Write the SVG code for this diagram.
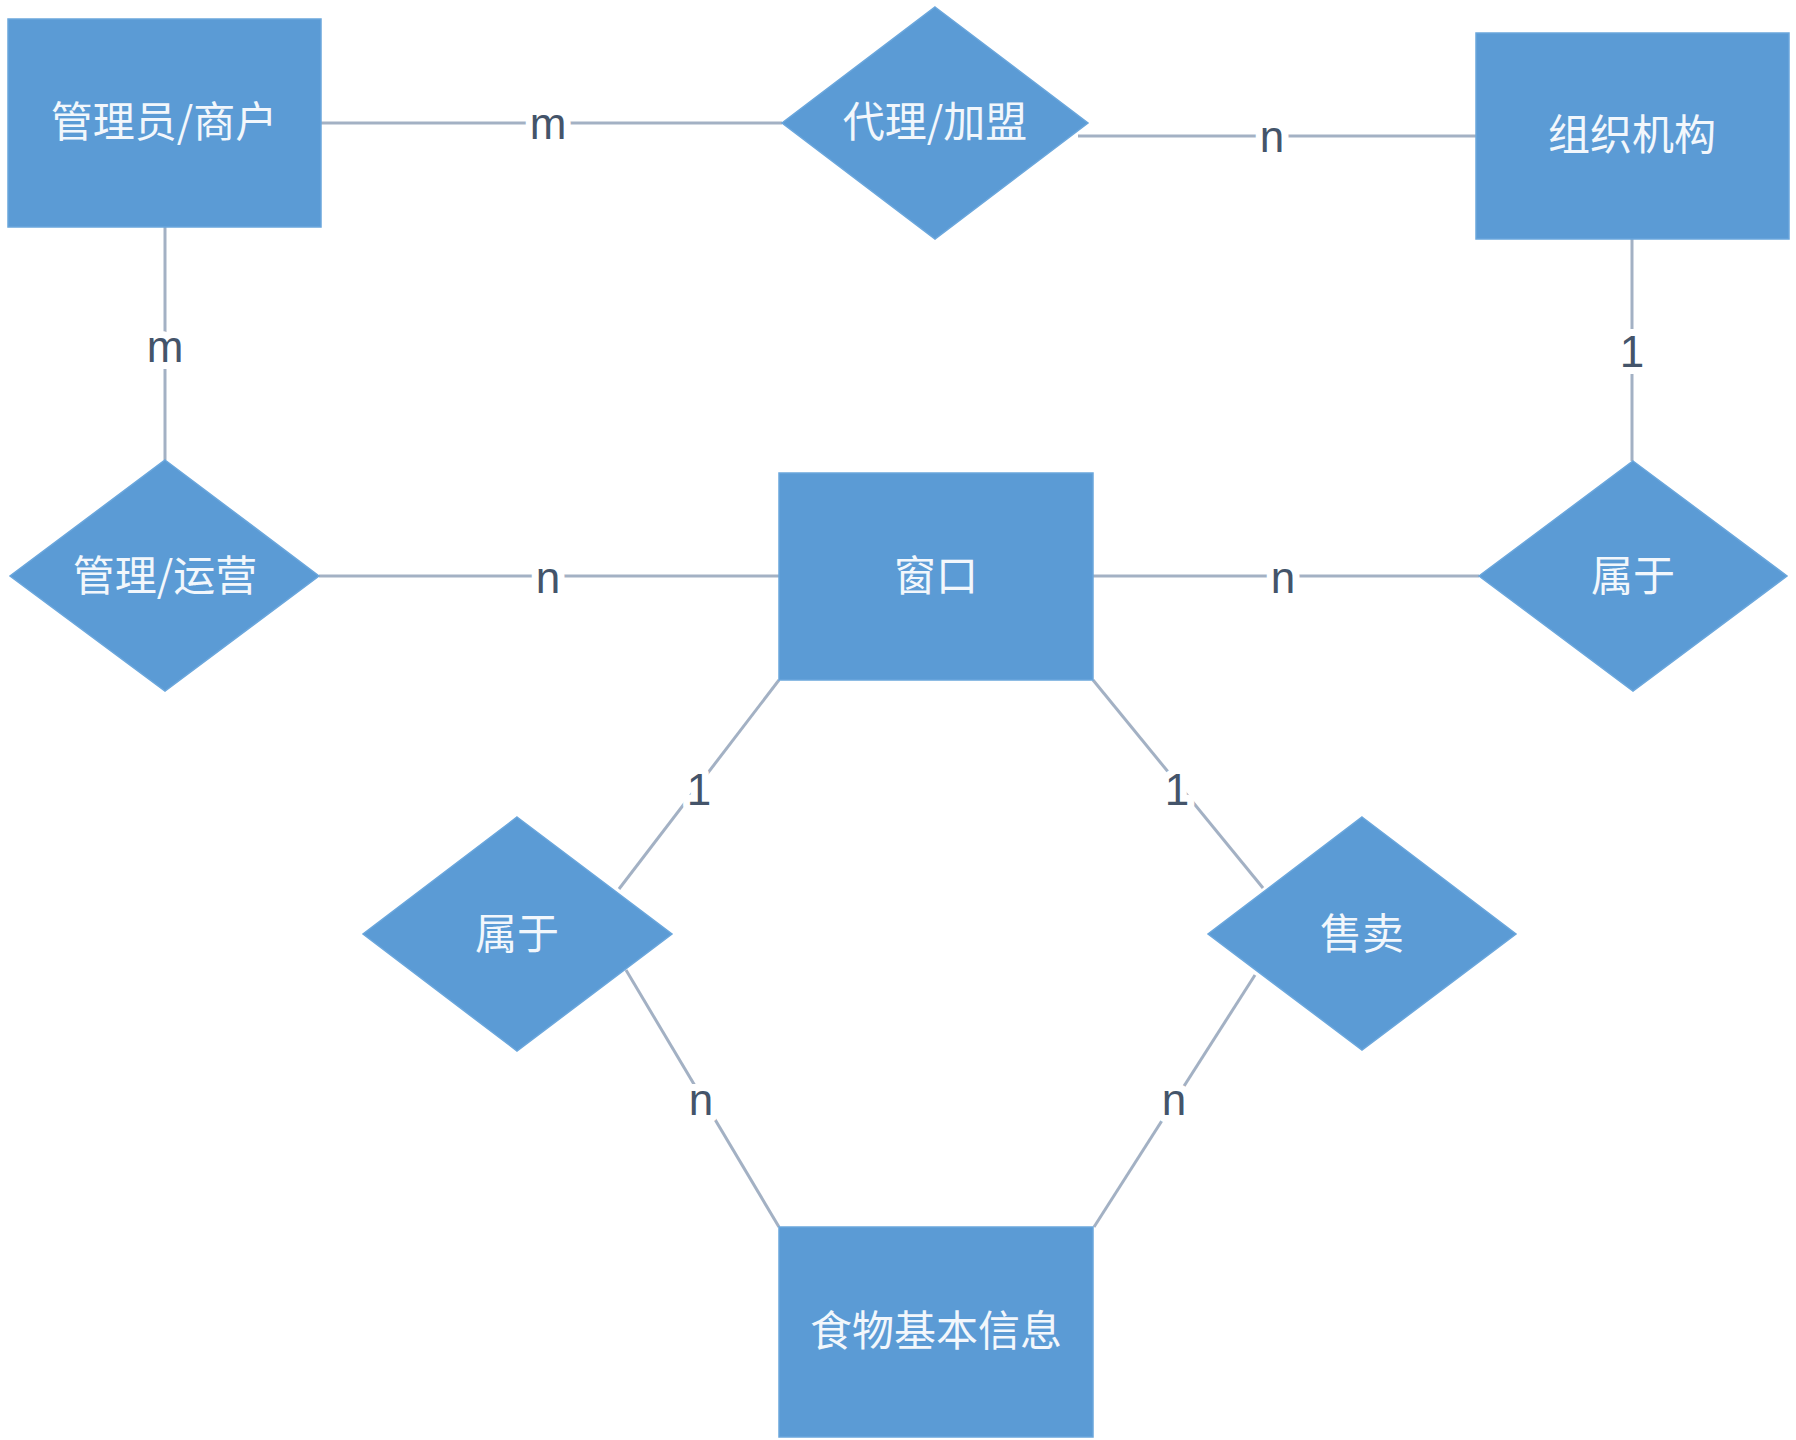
<svg xmlns="http://www.w3.org/2000/svg" width="1796" height="1440" viewBox="0 0 1796 1440">
<style>
.ent{fill:#5b9bd5;stroke:#6aa6dc;stroke-width:1.5}
.rel{fill:#5b9bd5;stroke:#6aa6dc;stroke-width:1.5}
.t{font-family:"Noto Sans CJK SC","Noto Sans",sans-serif;font-size:42px;fill:#f2f7fc;text-anchor:middle}
.c line{stroke:#a3b1c4;stroke-width:3}
.lb{font-family:"Liberation Sans","DejaVu Sans",sans-serif;font-size:44px;fill:#44546a;text-anchor:middle;stroke:#ffffff;stroke-width:14px;paint-order:stroke;stroke-linejoin:round}
</style>
<rect width="1796" height="1440" fill="#ffffff"/>
<g class="c" id="connectors">
<line x1="321" y1="123" x2="782" y2="123"/>
<line x1="1078" y1="136" x2="1476" y2="136"/>
<line x1="165" y1="227" x2="165" y2="460"/>
<line x1="1632" y1="239" x2="1632" y2="461"/>
<line x1="319" y1="576" x2="779" y2="576"/>
<line x1="1093" y1="576" x2="1479" y2="576"/>
<line x1="779" y1="680" x2="619" y2="889"/>
<line x1="626" y1="970" x2="779" y2="1227"/>
<line x1="1093" y1="680" x2="1263" y2="888"/>
<line x1="1255" y1="975" x2="1094" y2="1227"/>
<text class="lb" x="548" y="139">m</text>
<text class="lb" x="1272" y="152">n</text>
<text class="lb" x="165" y="362">m</text>
<text class="lb" x="1632" y="367">1</text>
<text class="lb" x="548" y="593">n</text>
<text class="lb" x="1283" y="593">n</text>
<text class="lb" x="699" y="805">1</text>
<text class="lb" x="701" y="1115">n</text>
<text class="lb" x="1177" y="805">1</text>
<text class="lb" x="1174" y="1115">n</text>
</g>
<g id="admin"><rect class="ent" x="8" y="19" width="313" height="208"/><text class="t" x="164" y="137">管理员/商户</text></g>
<g id="agent"><polygon class="rel" points="935,7 1088,123 935,239 782,123"/><text class="t" x="935" y="137">代理/加盟</text></g>
<g id="org"><rect class="ent" x="1476" y="33" width="313" height="206"/><text class="t" x="1632" y="150">组织机构</text></g>
<g id="manage"><polygon class="rel" points="165,460 319,576 165,691 10,576"/><text class="t" x="165" y="591">管理/运营</text></g>
<g id="window"><rect class="ent" x="779" y="473" width="314" height="207"/><text class="t" x="936" y="591">窗口</text></g>
<g id="belong-right"><polygon class="rel" points="1633,461 1787,576 1633,691 1479,576"/><text class="t" x="1633" y="591">属于</text></g>
<g id="belong-left"><polygon class="rel" points="517,817 672,934 517,1051 363,934"/><text class="t" x="517" y="949">属于</text></g>
<g id="sell"><polygon class="rel" points="1362,817 1516,934 1362,1050 1208,934"/><text class="t" x="1362" y="949">售卖</text></g>
<g id="food"><rect class="ent" x="779" y="1227" width="314" height="210"/><text class="t" x="936" y="1346">食物基本信息</text></g>
</svg>
